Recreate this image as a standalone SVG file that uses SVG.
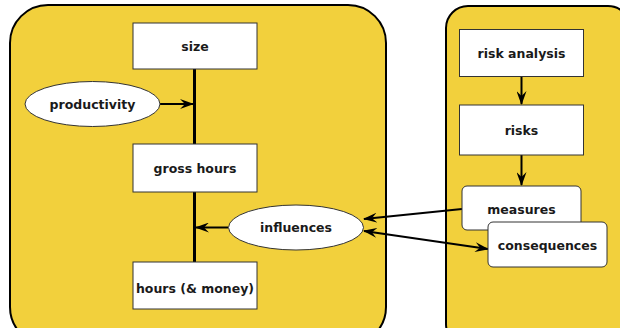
<svg xmlns="http://www.w3.org/2000/svg" width="620" height="328" viewBox="0 0 620 328">
<defs>
<style>
.cont{fill:#F2D03C;stroke:#000;stroke-width:2}
.box{fill:#fff;stroke:#333;stroke-width:1}
.t{font-family:"DejaVu Sans",Verdana,sans-serif;font-weight:bold;font-size:12.5px;fill:#1a1a1a;text-anchor:middle}
.bar{stroke:#000;stroke-width:3;fill:none}
.ar{stroke:#000;stroke-width:2;fill:none}
</style>
<marker id="ah" viewBox="0 0 14 10" refX="13" refY="5" markerWidth="14" markerHeight="10" markerUnits="userSpaceOnUse" orient="auto-start-reverse">
<path d="M0,0 L14,5 L0,10 L5,5 z" fill="#000"/>
</marker>
</defs>
<g id="containers">
<rect id="left-area" class="cont" x="10" y="5" width="376" height="340" rx="38" ry="38"/>
<rect id="right-area" class="cont" x="446" y="6" width="184" height="340" rx="22" ry="22"/>
</g>
<g id="connectors">
<line class="bar" x1="194.5" y1="69" x2="194.5" y2="144"/>
<line class="bar" x1="194.5" y1="192" x2="194.5" y2="262"/>
<line class="ar" x1="160" y1="104" x2="193" y2="104" marker-end="url(#ah)"/>
<line class="ar" x1="228" y1="227.5" x2="196" y2="227.5" marker-end="url(#ah)"/>
<line class="ar" x1="521.5" y1="76" x2="521.5" y2="104" marker-end="url(#ah)"/>
<line class="ar" x1="521.5" y1="155" x2="521.5" y2="185" marker-end="url(#ah)"/>
<line class="ar" x1="462" y1="209" x2="364" y2="219" marker-end="url(#ah)"/>
<line class="ar" x1="364" y1="231" x2="488" y2="249" marker-start="url(#ah)" marker-end="url(#ah)"/>
</g>
<g id="size"><rect class="box" x="133" y="23" width="124" height="46"/><text class="t" x="195" y="51">size</text></g>
<g id="productivity"><ellipse class="box" cx="92.5" cy="104" rx="67.5" ry="22.5"/><text class="t" x="92.5" y="109">productivity</text></g>
<g id="gross-hours"><rect class="box" x="133" y="144" width="124" height="48"/><text class="t" x="195" y="173">gross hours</text></g>
<g id="influences"><ellipse class="box" cx="296" cy="227.5" rx="67.5" ry="22.5"/><text class="t" x="296" y="232">influences</text></g>
<g id="hours-money"><rect class="box" x="133" y="262" width="124" height="47"/><text class="t" x="195" y="292.5">hours (&amp; money)</text></g>
<g id="risk-analysis"><rect class="box" x="459.5" y="29.5" width="124" height="47"/><text class="t" x="521.5" y="57.5">risk analysis</text></g>
<g id="risks"><rect class="box" x="459.5" y="105" width="124" height="50"/><text class="t" x="521.5" y="134.5">risks</text></g>
<g id="measures"><rect class="box" x="462" y="186" width="119" height="44" rx="5" ry="5"/><text class="t" x="521.5" y="213.5">measures</text></g>
<g id="consequences"><rect class="box" x="488" y="222" width="119" height="45" rx="5" ry="5"/><text class="t" x="547.5" y="249.5">consequences</text></g>
</svg>
